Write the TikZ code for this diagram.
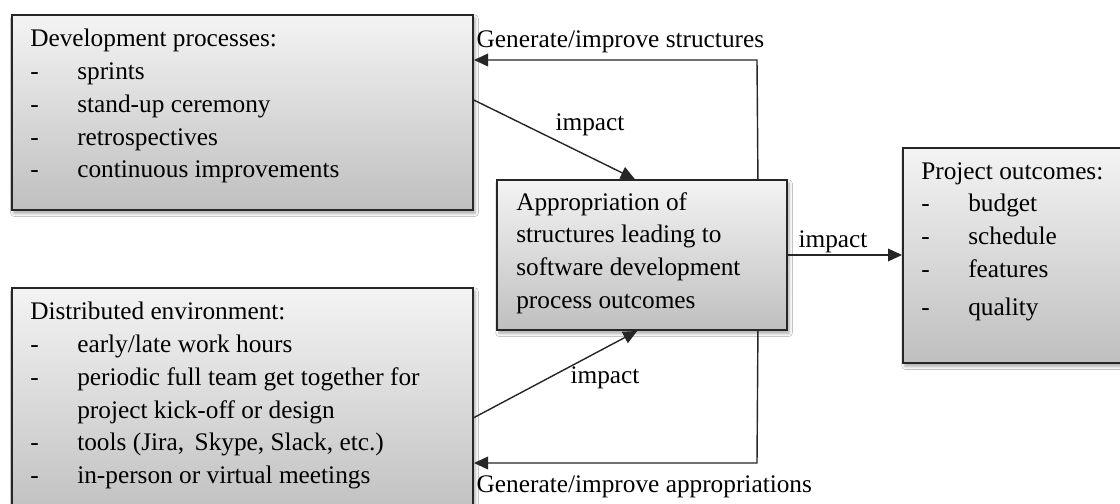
\documentclass[tikz,border=0pt]{standalone}
\usepackage{fontspec}
\setmainfont{Liberation Serif}
\usetikzlibrary{calc,arrows.meta,positioning,shadows.blur}
\newcommand{\itm}[1]{\makebox[1.175cm][l]{-}#1}
\tikzset{
    outcome box/.style={
        draw=black!85,line width=1.3pt,
        top color=gray!9,bottom color=gray!50,
        blur shadow={shadow xshift=0.05cm,shadow yshift=-0.08cm,
            shadow blur radius=0.08cm,shadow opacity=35},
        inner sep=0pt
    },
    box text/.style={
        anchor=north west,inner sep=0pt,align=left,
        font=\fontsize{18}{23.3}\selectfont
    },
    link label/.style={inner sep=1pt,font=\fontsize{18}{23.3}\selectfont},
    link/.style={draw=black!85,line width=1pt,->},
    >={Triangle[length=10pt,width=9pt]}
}

\begin{document}
\begin{tikzpicture}[x=0.025cm,y=-0.025cm]
\useasboundingbox (0,0) rectangle (1120,504);
\fill[white] (0,0) rectangle (1120,504);

% the four boxes
\node[outcome box,minimum width=11.525cm,minimum height=4.875cm] (devbox) at (242.5,112.5) {};
\node[outcome box,minimum width=11.525cm,minimum height=5.8cm] (distbox) at (242.5,404) {};
\node[outcome box,minimum width=7.25cm,minimum height=3.75cm] (apprbox) at (642,255) {};
\node[outcome box,minimum width=5.925cm,minimum height=5.375cm] (projbox) at (1021.5,255.5) {};

\node[box text] (devtext) at (30,29) {Development processes:\\
    \itm{sprints}\\ \itm{stand-up ceremony}\\ \itm{retrospectives}\\
    \itm{continuous improvements}};
\node[box text] (disttext) at (30,302) {Distributed environment:\\
    \itm{early/late work hours}\\ \itm{periodic full team get together for}\\
    \hspace*{1.175cm}project kick-off or design\\
    \itm{tools (Jira,\, Skype, Slack, etc.)}\\ \itm{in-person or virtual meetings}};
\node[box text] (apprtext) at (516,192) {Appropriation of\\ structures leading to\\
    software development\\ process outcomes};
\node[box text] (projtext) at (921,162) {Project outcomes:\\
    \itm{budget}\\ \itm{schedule}\\ \itm{features}\\[4pt] \itm{quality}};

% impact arrows
\draw[link] ([yshift=0.31cm]devbox.east) -- ([xshift=-0.18cm]apprbox.north);
\draw[link] ([yshift=-0.34cm]distbox.east) -- ([xshift=-0.12cm]apprbox.south);
\draw[link] (apprbox.east) -- (projbox.west |- apprbox.east);
\node[link label] (impdev) at (590,125) {impact};
\node[link label] (impdist) at (605,378) {impact};
\node[link label] (impproj) at (833,242) {impact};

% feedback loops back to the left boxes
\coordinate (loopup) at (757,60);
\coordinate (loopdn) at (757,463);
\draw[link] ([xshift=-0.75cm]apprbox.north east) -- (loopup) -- (devbox.east |- loopup);
\draw[link] ([xshift=-0.75cm]apprbox.south east) -- (loopdn) -- (distbox.east |- loopdn);
\node[link label,anchor=west] (genstruct) at (475,42) {Generate/improve structures};
\node[link label,anchor=west] (genappr) at (475,487) {Generate/improve appropriations};
\end{tikzpicture}
\end{document}
